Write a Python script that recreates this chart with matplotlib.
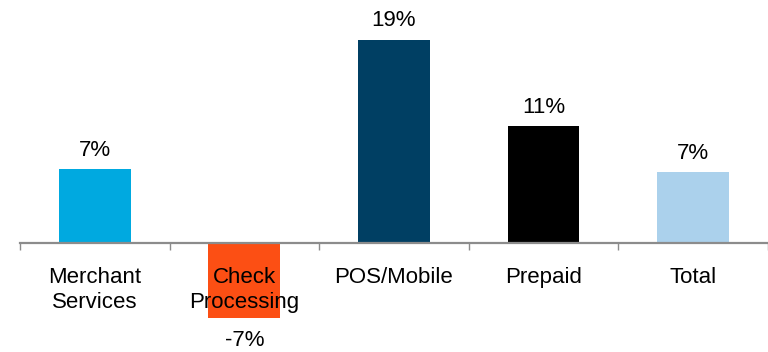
import numpy as np
import matplotlib.pyplot as plt

plt.rcParams['font.family'] = ['Liberation Sans', 'DejaVu Sans']

# Growth by segment (%)
categories = ['Merchant\nServices', 'Check\nProcessing', 'POS/Mobile', 'Prepaid', 'Total']
growth = [6.9, -7.0, 19.0, 10.9, 6.6]
colors = ['#00A9E0', '#FC4F14', '#003F63', '#000000', '#ABD1EC']

fig = plt.figure(figsize=(7.68, 3.52), dpi=100)
ax = fig.add_axes([0, 0, 1, 1])

x = np.arange(len(categories))
bars = ax.bar(x, growth, width=0.48, color=colors, zorder=1)

# value labels above / below each bar
for xi, v in zip(x, growth):
    if v >= 0:
        ax.annotate(f'{v:.0f}%', (xi, v), xytext=(0, 6), textcoords='offset points',
                    ha='center', va='bottom', fontsize=16)
    else:
        ax.annotate(f'{v:.0f}%', (xi, v), xytext=(0, -9), textcoords='offset points',
                    ha='center', va='top', fontsize=16)

# axis limits so the baseline sits where the layout wants it
ax.set_xlim(-0.633, 4.463)
ax.set_ylim(-10.19, 22.71)

for s in ['top', 'right', 'left']:
    ax.spines[s].set_visible(False)
ax.spines['bottom'].set_position(('data', 0))
ax.spines['bottom'].set_bounds(-0.5, 4.5)
ax.spines['bottom'].set_color('#8C8C8C')
ax.spines['bottom'].set_linewidth(1.6)
ax.spines['bottom'].set_zorder(3)

ax.set_xticks(x)
ax.set_xticklabels(categories, fontsize=16, linespacing=1.3)
ax.tick_params(axis='x', which='major', length=0, pad=17, zorder=5)
ax.set_xticks(np.arange(-0.5, 5, 1), minor=True)
ax.tick_params(axis='x', which='minor', length=5, width=1, color='#8C8C8C', direction='out')
ax.set_yticks([])

fig.savefig('out.png', dpi=100)
